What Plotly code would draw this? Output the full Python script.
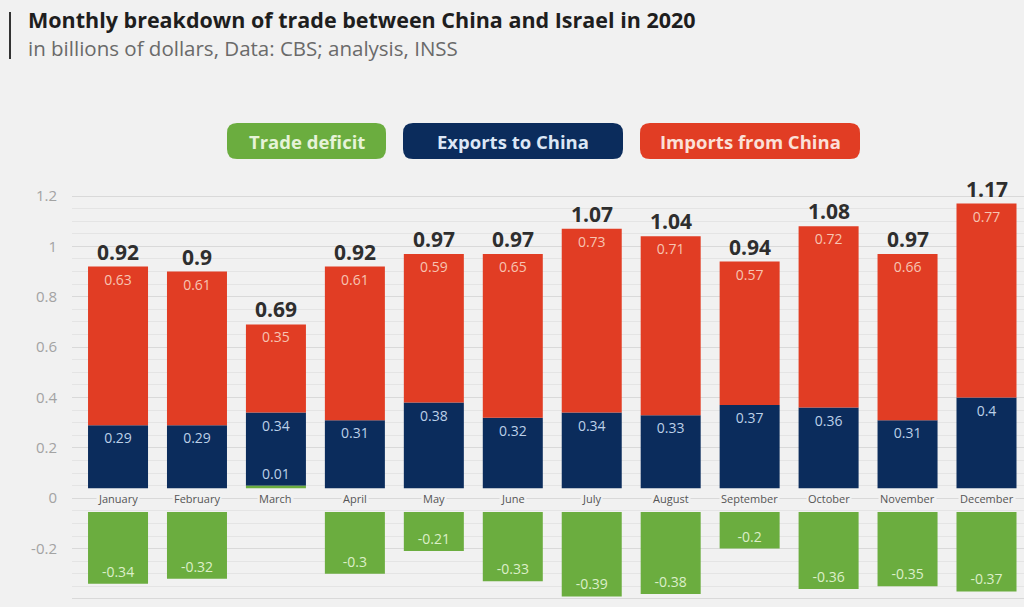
import plotly.graph_objects as go

# ---- data (billions of USD) ----
months = ["January", "February", "March", "April", "May", "June", "July",
          "August", "September", "October", "November", "December"]
exports_to_china = [0.29, 0.29, 0.34, 0.31, 0.38, 0.32, 0.34, 0.33, 0.37, 0.36, 0.31, 0.40]
imports_from_china = [0.63, 0.61, 0.35, 0.61, 0.59, 0.65, 0.73, 0.71, 0.57, 0.72, 0.66, 0.77]
trade_deficit = [-0.34, -0.32, 0.01, -0.30, -0.21, -0.33, -0.39, -0.38, -0.20, -0.36, -0.35, -0.37]
y_tick_values = [-0.4, -0.2, 0, 0.2, 0.4, 0.6, 0.8, 1.0, 1.2]
y_tick_labels = ["-0.4", "-0.2", "0", "0.2", "0.4", "0.6", "0.8", "1", "1.2"]

# ---- style ----
BG = "#F1F1F1"
RED = "#E13D24"
NAVY = "#0B2C5C"
GREEN = "#6BAD3F"
FONT = "Open Sans"
BAND_UP = 0.04     # month-label band above zero
BAND_DN = -0.055   # month-label band below zero
BAR_W = 0.76

W, H = 1024, 607
ML, MR, MT, MB = 72, 0, 191, 3
PW, PH = W - ML - MR, H - MT - MB


def fmt(v):
    return f"{round(v, 2):g}"


def px(x):
    return (x - ML) / PW


def py(y):
    return (H - MB - y) / PH


totals = [round(e + i, 2) for e, i in zip(exports_to_china, imports_from_china)]
surplus = [max(d, 0) for d in trade_deficit]

fig = go.Figure()

# negative trade balance, hanging below the label band
neg_m = [m for m, d in zip(months, trade_deficit) if d < 0]
neg_d = [d for d in trade_deficit if d < 0]
fig.add_trace(go.Bar(
    x=neg_m, y=[d - BAND_DN for d in neg_d], base=[BAND_DN] * len(neg_d),
    width=BAR_W, marker=dict(color=GREEN, line=dict(width=0)),
    text=[fmt(d) for d in neg_d], textposition="inside", insidetextanchor="end",
    textangle=0, textfont=dict(family=FONT, size=14, color="#DCEFC9"),
    constraintext="none", name="Trade deficit", hoverinfo="skip",
))

# exports (bottom of the stack)
fig.add_trace(go.Bar(
    x=months,
    y=[e - BAND_UP - s for e, s in zip(exports_to_china, surplus)],
    base=[BAND_UP + s for s in surplus],
    width=BAR_W, marker=dict(color=NAVY, line=dict(width=0)),
    text=[fmt(e) for e in exports_to_china], textposition="inside",
    insidetextanchor="end", textangle=0,
    textfont=dict(family=FONT, size=14, color="#BCD0E8"),
    constraintext="none", name="Exports to China", hoverinfo="skip",
))

# imports stacked on top of exports
fig.add_trace(go.Bar(
    x=months, y=imports_from_china, base=exports_to_china,
    width=BAR_W, marker=dict(color=RED, line=dict(width=0)),
    text=[fmt(i) for i in imports_from_china], textposition="inside",
    insidetextanchor="end", textangle=0,
    textfont=dict(family=FONT, size=14, color="#F7C4B2"),
    constraintext="none", name="Imports from China", hoverinfo="skip",
))

# positive trade balance: thin sliver at the base of the stack
pos_m = [m for m, d in zip(months, trade_deficit) if d > 0]
pos_d = [d for d in trade_deficit if d > 0]
fig.add_trace(go.Bar(
    x=pos_m, y=pos_d, base=[BAND_UP] * len(pos_d),
    width=BAR_W, marker=dict(color=GREEN, line=dict(width=0)),
    text=[fmt(d) for d in pos_d], textposition="outside", textangle=0,
    textfont=dict(family=FONT, size=14, color="#BCD0E8"),
    constraintext="none", cliponaxis=False, hoverinfo="skip",
))

annotations = []
# totals above each stack
for m, t in zip(months, totals):
    annotations.append(dict(
        x=m, y=t, xref="x", yref="y", text=f"<b>{fmt(t)}</b>", showarrow=False,
        yanchor="bottom", yshift=-1,
        font=dict(family=FONT, size=21, color="#2E2E2E"),
    ))
# month names sitting on the zero line
for m in months:
    annotations.append(dict(
        x=m, y=0, xref="x", yref="y", text=m, showarrow=False,
        font=dict(family=FONT, size=11, color="#555555"),
        bgcolor=BG, borderpad=1,
    ))

# title block
annotations.append(dict(
    x=px(26), y=py(19), xref="paper", yref="paper", xanchor="left", yanchor="middle",
    text="<b>Monthly breakdown of trade between China and Israel in 2020</b>",
    showarrow=False, font=dict(family=FONT, size=21.5, color="#1E1E1E"),
))
annotations.append(dict(
    x=px(26), y=py(48), xref="paper", yref="paper", xanchor="left", yanchor="middle",
    text="in billions of dollars, Data: CBS; analysis, INSS",
    showarrow=False, font=dict(family=FONT, size=20.5, color="#6A6A6A"),
))

shapes = [dict(
    type="line", xref="paper", yref="paper",
    x0=px(10), x1=px(10), y0=py(12), y1=py(59),
    line=dict(color="#333333", width=2),
)]


def pill(x0, x1, y0, y1, r):
    pts = [
        f"M{px(x0 + r)},{py(y0)}",
        f"L{px(x1 - r)},{py(y0)}",
        f"Q{px(x1)},{py(y0)} {px(x1)},{py(y0 + r)}",
        f"L{px(x1)},{py(y1 - r)}",
        f"Q{px(x1)},{py(y1)} {px(x1 - r)},{py(y1)}",
        f"L{px(x0 + r)},{py(y1)}",
        f"Q{px(x0)},{py(y1)} {px(x0)},{py(y1 - r)}",
        f"L{px(x0)},{py(y0 + r)}",
        f"Q{px(x0)},{py(y0)} {px(x0 + r)},{py(y0)}",
        "Z",
    ]
    return " ".join(pts)


legend_items = [
    ("Trade deficit", GREEN, "#E6F3D8", 227, 386),
    ("Exports to China", NAVY, "#DCE7F5", 403, 623),
    ("Imports from China", RED, "#FBE0D8", 640, 860),
]
for label, col, tcol, x0, x1 in legend_items:
    shapes.append(dict(
        type="path", xref="paper", yref="paper", path=pill(x0, x1, 123, 159, 10),
        fillcolor=col, line=dict(width=0), layer="above",
    ))
    annotations.append(dict(
        x=px((x0 + x1) / 2), y=py(141), xref="paper", yref="paper",
        xanchor="center", yanchor="middle", text=f"<b>{label}</b>", showarrow=False,
        font=dict(family=FONT, size=18.5, color=tcol),
    ))

fig.update_layout(
    width=W, height=H,
    margin=dict(l=ML, r=MR, t=MT, b=MB, pad=0),
    paper_bgcolor=BG, plot_bgcolor=BG,
    barmode="overlay", showlegend=False,
    font=dict(family=FONT),
    xaxis=dict(type="category", categoryorder="array", categoryarray=months,
               range=[-0.583, 11.475], showticklabels=False,
               showgrid=False, zeroline=False, showline=False, ticks=""),
    yaxis=dict(range=[-0.42, 1.22], tickvals=y_tick_values, ticktext=y_tick_labels,
               showgrid=True, gridcolor="#D9D9D9", gridwidth=1, zeroline=False,
               showline=False, ticks="", ticklabelstandoff=14,
               tickfont=dict(family=FONT, size=15, color="#A3A3A3"),
               minor=dict(dtick=0.05, showgrid=True, gridcolor="#E4E4E4", gridwidth=1)),
    annotations=annotations,
    shapes=shapes,
)

fig.write_html("out.html")
